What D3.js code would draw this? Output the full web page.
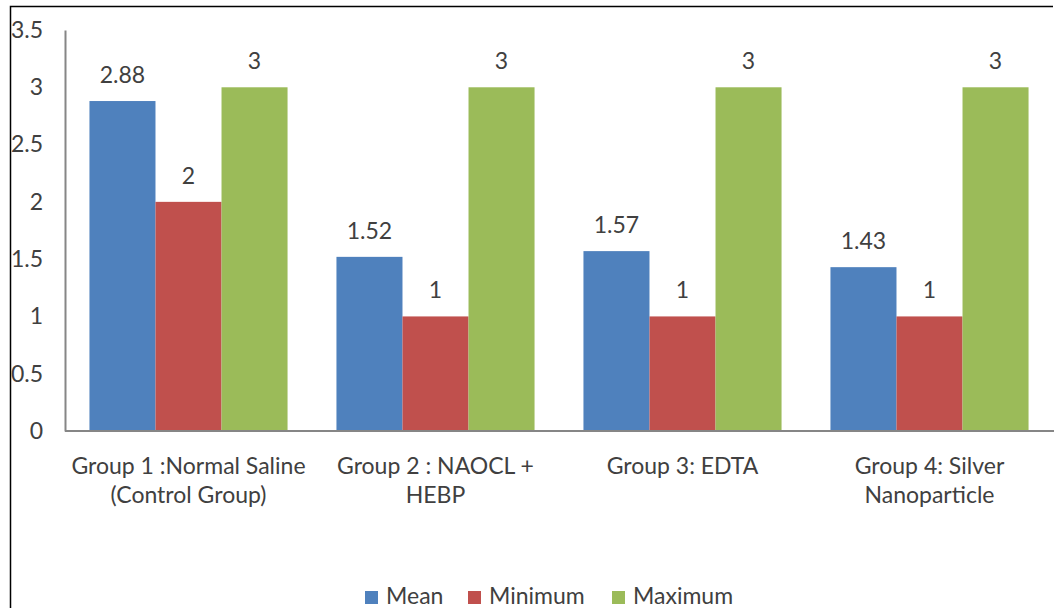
<!DOCTYPE html>
<html><head><meta charset="utf-8">
<script src="https://cdn.jsdelivr.net/npm/d3@7"></script>
<style>body{margin:0;background:#fff}svg{display:block}</style>
</head><body>
<svg id="c" width="1058" height="608"></svg>
<script>
const categories = [["Group 1 :Normal Saline","(Control Group)"],["Group 2 : NAOCL +","HEBP"],["Group 3: EDTA"],["Group 4: Silver","Nanoparticle"]];
const seriesNames = ["Mean","Minimum","Maximum"];
const meanValues = [2.88,1.52,1.57,1.43];
const minValues = [2,1,1,1];
const maxValues = [3,3,3,3];
const yTicks = [0,0.5,1,1.5,2,2.5,3,3.5];
const colors = ["#4F81BD","#C0504D","#9BBB59"];
const series = [meanValues,minValues,maxValues];

(function(){
const svg = d3.select("#c");
const font = "Lato, 'Liberation Sans', Arial, sans-serif";
const fs = 23;
const pl = 65, pr = 1053, pt = 30, pb = 431;

// border
svg.append("path").attr("d","M10.5,608 V6.5 H1053").attr("fill","none").attr("stroke","#000").attr("stroke-width",1.5);

const x0 = d3.scaleBand().domain(d3.range(categories.length)).range([pl,pr]).paddingInner(0.198).paddingOuter(0.099);
const x1 = d3.scaleBand().domain(d3.range(3)).range([0,x0.bandwidth()]);
const y = d3.scaleLinear().domain([0,3.5]).range([pb,pt]);

const g = svg.append("g");
series.forEach((vals,si)=>{
  g.selectAll(null).data(vals).enter().append("rect")
    .attr("x",(d,i)=>x0(i)+x1(si)).attr("width",x1.bandwidth())
    .attr("y",d=>y(d)).attr("height",d=>y(0)-y(d)).attr("fill",colors[si]);
  g.selectAll(null).data(vals).enter().append("text")
    .attr("x",(d,i)=>x0(i)+x1(si)+x1.bandwidth()/2).attr("y",d=>y(d)-18)
    .attr("text-anchor","middle").attr("font-family",font).attr("font-size",fs).attr("fill","#404040")
    .text(d=>d);
});

// axes
const yAxis = d3.axisLeft(y).tickValues(yTicks).tickSize(0).tickPadding(22).tickFormat(d=>d);
const ya = svg.append("g").attr("transform",`translate(${pl},0)`).call(yAxis);
ya.select(".domain").attr("stroke","#868686").attr("stroke-width",2);
ya.selectAll("text").attr("font-family",font).attr("font-size",fs).attr("fill","#404040");

svg.append("line").attr("x1",pl).attr("x2",pr+1).attr("y1",pb).attr("y2",pb).attr("stroke","#868686").attr("stroke-width",2);

// category labels
categories.forEach((lines,i)=>{
  const t = svg.append("text").attr("text-anchor","middle").attr("font-family",font).attr("font-size",fs).attr("fill","#404040");
  lines.forEach((l,j)=>t.append("tspan").attr("x",x0(i)+x0.bandwidth()/2).attr("y",474+j*29).text(l));
});

// legend
const legX = [365,468,612];
seriesNames.forEach((n,i)=>{
  svg.append("rect").attr("x",legX[i]).attr("y",591).attr("width",13).attr("height",13).attr("fill",colors[i]);
  svg.append("text").attr("x",legX[i]+21).attr("y",604).attr("font-family",font).attr("font-size",fs).attr("fill","#404040").text(n);
});
})();
</script>
</body></html>
